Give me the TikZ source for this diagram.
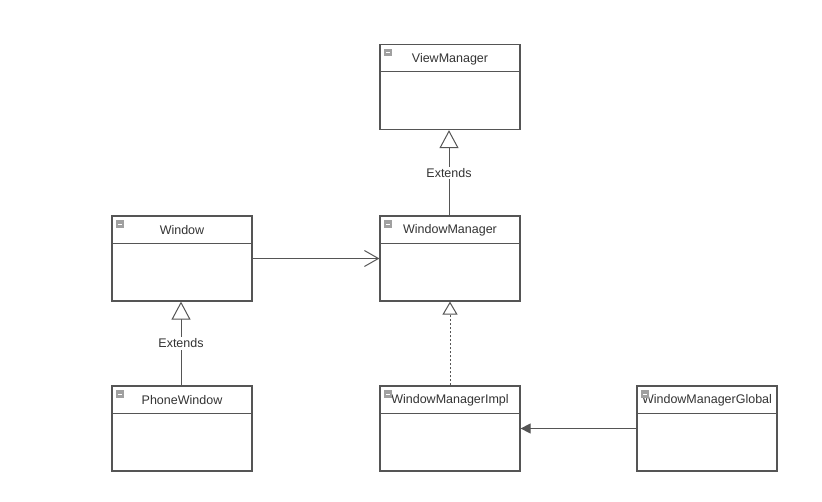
\documentclass[tikz,border=0pt]{standalone}
\usepackage{fontspec}
\setmainfont{Liberation Sans}
\usetikzlibrary{arrows.meta}
\definecolor{linec}{HTML}{555555}
\definecolor{textc}{HTML}{333333}
\definecolor{iconc}{HTML}{A0A0A0}
\tikzset{
  classbox/.style={draw=linec, line width=1.2pt, rectangle, minimum width=140pt, minimum height=85pt, inner sep=0pt},
  classname/.style={text=textc, font=\fontsize{12.5}{14}\selectfont, inner sep=0pt, anchor=center},
  conn/.style={draw=linec, line width=1pt},
  extendsarrow/.style={conn, -{Triangle[open, length=18pt, width=19pt, fill=white]}},
  implarrow/.style={conn, dash pattern=on 2pt off 2pt, -{Triangle[open, length=13pt, width=15pt, fill=white]}},
  assocarrow/.style={conn, -{Straight Barb[length=14pt, width=16pt, line width=1pt]}},
  filledarrow/.style={conn, -{Triangle[length=10pt, width=10pt]}},
  edgelabel/.style={fill=white, text=textc, font=\fontsize{12.5}{14}\selectfont, inner sep=1.5pt}
}
\newcommand{\umlheader}[2]{%
  \draw[linec, line width=1.2pt] ([yshift=-28pt]#1.north west) -- ([yshift=-28pt]#1.north east);
  \node[classname] (#1-title) at ([yshift=-15pt]#1.north) {#2};
  \fill[iconc] ([xshift=5pt,yshift=-5pt]#1.north west) rectangle ([xshift=12.5pt,yshift=-12.5pt]#1.north west);
  \draw[white, line width=0.9pt] ([xshift=6.5pt,yshift=-8.7pt]#1.north west) -- ([xshift=11pt,yshift=-8.7pt]#1.north west);
}
\begin{document}
\begin{tikzpicture}[x=1pt, y=-1pt]
\useasboundingbox (0,0) rectangle (822,502);
% classes
\node[classbox] (vm) at (450,87) {};
\node[classbox] (win) at (182,258.5) {};
\node[classbox] (wm) at (450,258.5) {};
\node[classbox] (pw) at (182,428.5) {};
\node[classbox] (wmi) at (450,428.5) {};
\node[classbox] (wmg) at (707,428.5) {};
\umlheader{vm}{ViewManager}
\umlheader{win}{Window}
\umlheader{wm}{WindowManager}
\umlheader{pw}{PhoneWindow}
\umlheader{wmi}{WindowManagerImpl}
\umlheader{wmg}{WindowManagerGlobal}
% connectors
\draw[extendsarrow] ([xshift=-1pt]wm.north) -- node[edgelabel] {Extends} ([xshift=-1pt]vm.south);
\draw[extendsarrow] ([xshift=-1pt]pw.north) -- node[edgelabel] {Extends} ([xshift=-1pt]win.south);
\draw[assocarrow] (win.east) -- (wm.west);
\draw[implarrow] (wmi.north) -- (wm.south);
\draw[filledarrow] (wmg.west) -- (wmi.east);
\end{tikzpicture}
\end{document}
